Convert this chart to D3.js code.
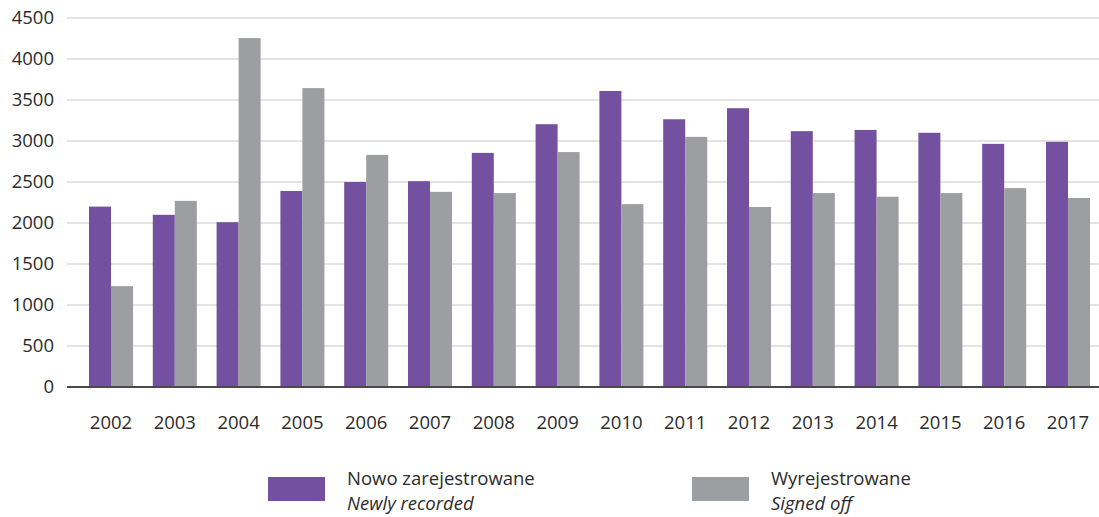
<!DOCTYPE html>
<html>
<head>
<meta charset="utf-8">
<script src="https://cdn.jsdelivr.net/npm/d3@7"></script>
<style>
  body { margin: 0; background: #fff; }
  svg { font-family: "Open Sans", sans-serif; }
</style>
</head>
<body>
<svg id="chart" width="1099" height="517"></svg>
<script>
var years = ["2002","2003","2004","2005","2006","2007","2008","2009","2010","2011","2012","2013","2014","2015","2016","2017"];
var newlyRecorded = [2200, 2100, 2010, 2390, 2500, 2510, 2855, 3205, 3610, 3265, 3400, 3120, 3135, 3100, 2965, 2990];
var signedOff = [1230, 2270, 4255, 3645, 2830, 2380, 2365, 2865, 2230, 3050, 2195, 2365, 2320, 2365, 2425, 2305];
var yTicks = [0, 500, 1000, 1500, 2000, 2500, 3000, 3500, 4000, 4500];
var seriesNames = ["Nowo zarejestrowane", "Wyrejestrowane"];
var seriesNamesEn = ["Newly recorded", "Signed off"];
var colors = ["#7451a0", "#9d9ea2"];

var svg = d3.select("#chart");
var gridLeft = 67, gridRight = 1099;

var x = d3.scaleBand().domain(years).range([89, 1090]).paddingInner(0.31).paddingOuter(0);
var x1 = d3.scaleBand().domain([0, 1]).range([0, x.bandwidth()]);
var y = d3.scaleLinear().domain([0, 4500]).range([387, 18]);

// grid lines
svg.append("g").selectAll("line").data(yTicks.slice(1)).enter().append("line")
  .attr("x1", gridLeft).attr("x2", gridRight)
  .attr("y1", function(d){ return y(d); }).attr("y2", function(d){ return y(d); })
  .attr("stroke", "#dadada").attr("stroke-width", 1.5);

// y labels
svg.append("g").selectAll("text").data(yTicks).enter().append("text")
  .attr("x", 54).attr("y", function(d){ return y(d); })
  .attr("dy", "0.35em").attr("text-anchor", "end")
  .attr("font-size", 18.5).attr("fill", "#2b2b2b")
  .text(function(d){ return d; });

// bars
var groups = svg.append("g").selectAll("g").data(years).enter().append("g")
  .attr("transform", function(d){ return "translate(" + x(d) + ",0)"; });

groups.selectAll("rect").data(function(d, i){ return [newlyRecorded[i], signedOff[i]]; })
  .enter().append("rect")
  .attr("x", function(d, j){ return x1(j); })
  .attr("width", x1.bandwidth())
  .attr("y", function(d){ return y(d); })
  .attr("height", function(d){ return y(0) - y(d); })
  .attr("fill", function(d, j){ return colors[j]; });

// baseline
svg.append("line").attr("x1", gridLeft).attr("x2", gridRight)
  .attr("y1", y(0)).attr("y2", y(0))
  .attr("stroke", "#4a4a4a").attr("stroke-width", 2);

// x labels
svg.append("g").selectAll("text").data(years).enter().append("text")
  .attr("x", function(d){ return x(d) + x.bandwidth() / 2; })
  .attr("y", 423).attr("dy", "0.35em").attr("text-anchor", "middle")
  .attr("font-size", 18.5).attr("fill", "#2b2b2b")
  .text(function(d){ return d; });

// legend
var legendX = [268, 692];
var legend = svg.append("g").selectAll("g").data(seriesNames).enter().append("g")
  .attr("transform", function(d, i){ return "translate(" + legendX[i] + ",0)"; });
legend.append("rect").attr("x", 0).attr("y", 477).attr("width", 57).attr("height", 24)
  .attr("fill", function(d, i){ return colors[i]; });
legend.append("text").attr("x", 79).attr("y", 479).attr("dy", "0.35em")
  .attr("font-size", 18.5).attr("fill", "#2b2b2b")
  .text(function(d){ return d; });
legend.append("text").attr("x", 79).attr("y", 504).attr("dy", "0.35em")
  .attr("font-size", 18.5).attr("font-style", "italic").attr("fill", "#2b2b2b")
  .text(function(d, i){ return seriesNamesEn[i]; });
</script>
</body>
</html>
